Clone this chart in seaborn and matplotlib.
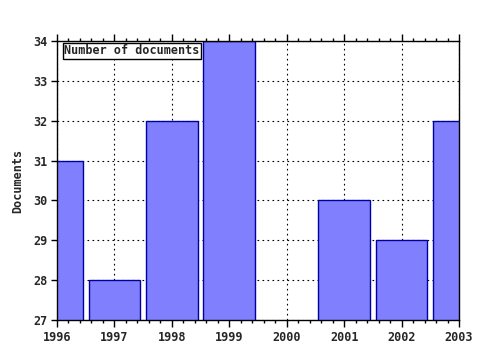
import matplotlib
matplotlib.use("Agg")
import matplotlib.pyplot as plt
import seaborn as sns
import pandas as pd
from matplotlib.ticker import MultipleLocator

years = [1996, 1997, 1998, 1999, 2001, 2002, 2003]
documents = [31, 28, 32, 34, 30, 29, 32]
tick_years = [1996, 1997, 1998, 1999, 2000, 2001, 2002, 2003]
y_ticks = [27, 28, 29, 30, 31, 32, 33, 34]
legend_label = "Number of documents"
y_label = "Documents"

sns.set_style("white")
plt.rcParams['font.family'] = ['DejaVu Sans Mono']
plt.rcParams['font.weight'] = 'bold'

df = pd.DataFrame({"year": years, "documents": documents})

fig = plt.figure(figsize=(4.8, 3.5), dpi=100)
ax = fig.add_axes([57/480, 1-320/350, (459-57)/480, (320-41)/350])

sns.barplot(data=df, x="year", y="documents", native_scale=True, width=0.9,
            color="#8080ff", saturation=1, edgecolor="#0000a0", linewidth=1,
            ax=ax, zorder=3)

ax.set_xlim(1996, 2003)
ax.set_ylim(27, 34)
ax.set_xticks(tick_years)
ax.set_xticklabels([str(y) for y in tick_years])
ax.set_yticks(y_ticks)
ax.xaxis.set_minor_locator(MultipleLocator(0.2))
ax.grid(True, which="major", color="black", linestyle=(0, (1.5, 3)), linewidth=0.8, zorder=1)
ax.set_axisbelow(True)
for s in ax.spines.values():
    s.set_color("black")
    s.set_linewidth(1)
    s.set_zorder(5)

fs = 8.5
ax.tick_params(axis="x", which="major", direction="out", length=5, width=1,
               top=True, bottom=True, labelsize=fs, pad=3, color="black")
ax.tick_params(axis="x", which="minor", direction="out", length=2.5, width=1,
               top=True, bottom=True, color="black")
ax.tick_params(axis="y", which="major", direction="out", length=4, width=1,
               left=True, right=False, labelsize=fs, pad=3, color="black")
for lab in ax.get_xticklabels() + ax.get_yticklabels():
    lab.set_fontweight("bold")

ax.set_xlabel("")
ax.set_ylabel(y_label, fontsize=fs, fontweight="bold", labelpad=6)

ax.text(64/480, 1-51/350, legend_label, transform=fig.transFigure,
        fontsize=fs, fontweight="bold", va="center", ha="left", zorder=10,
        bbox=dict(boxstyle="square,pad=0.12", facecolor="white", edgecolor="black", linewidth=1))

fig.savefig("out.png", dpi=100)
